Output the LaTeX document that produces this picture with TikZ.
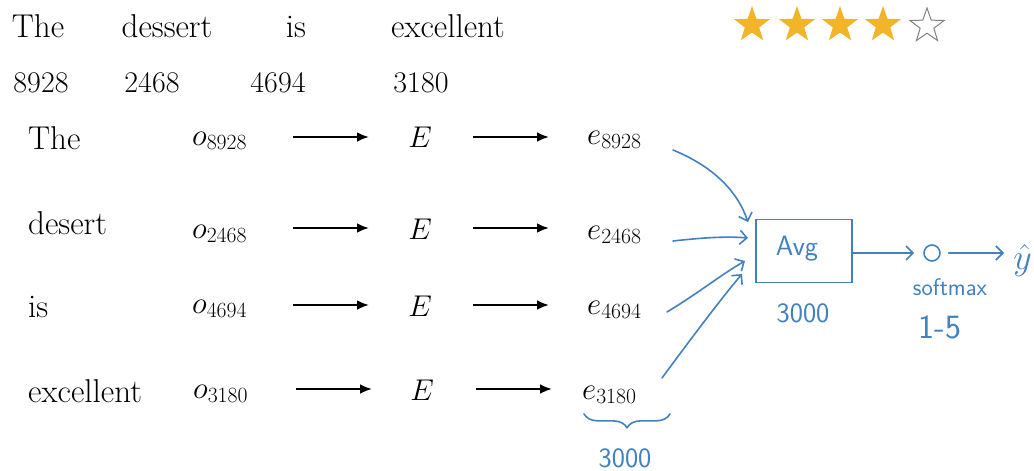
\RequirePackage{fix-cm}
\documentclass[tikz,border=0pt]{standalone}
\usetikzlibrary{arrows.meta,shapes.geometric,decorations.pathreplacing}
\definecolor{pen}{RGB}{66,128,190}
\definecolor{gold}{RGB}{242,180,40}
\begin{document}
\begin{tikzpicture}[x=1pt,y=-1pt,
 word/.style={anchor=west,inner sep=0pt,font=\fontsize{33}{38}\selectfont},
 topword/.style={inner sep=0pt,font=\fontsize{33}{38}\selectfont,anchor=base},
 num/.style={inner sep=0pt,font=\fontsize{30}{34}\selectfont,anchor=base},
 mth/.style={inner sep=0pt,font=\fontsize{31}{35}\selectfont,anchor=base west},
 emb/.style={inner sep=0pt,font=\fontsize{30}{34}\selectfont},
 arr/.style={line width=2.8pt,-{Latex[length=12pt,width=10pt]}},
 penline/.style={draw=pen,line width=1.6pt,line cap=round,line join=round},
 penarr/.style={penline,-{Straight Barb[length=7pt,width=14pt,line width=1.6pt]}},
 hand/.style={text=pen,inner sep=0pt,font=\sffamily\fontsize{28}{30}\selectfont},
 st/.style={star,star points=5,star point ratio=2.5,minimum size=38pt,inner sep=0pt}
]
\useasboundingbox (0,0) rectangle (1034,471);
% top sentence
\node[topword] (tw1) at (38,37) {The};
\node[topword] (tw2) at (167,37) {dessert};
\node[topword] (tw3) at (296,37) {is};
\node[topword] (tw4) at (448,37) {excellent};
\node[num] (n1) at (41,92) {8928};
\node[num] (n2) at (152,92) {2468};
\node[num] (n3) at (278,92) {4694};
\node[num] (n4) at (421,92) {3180};
% stars
\node[st,fill=gold] (s1) at (752,25) {};
\node[st,fill=gold] (s2) at (797,25) {};
\node[st,fill=gold] (s3) at (840,25) {};
\node[st,fill=gold] (s4) at (883,25) {};
\node[st,draw=gray,line width=1pt,minimum size=36pt] (s5) at (927,26) {};
% rows
\node[word] (w1) at (28,138) {The};
\node[word] (w2) at (28,223) {desert};
\node[word] (w3) at (28,307) {is};
\node[word] (w4) at (28,391) {excellent};
\node[mth] (o1) at (192,145) {$o_{8928}$};
\node[mth] (o2) at (192,238) {$o_{2468}$};
\node[mth] (o3) at (192,313) {$o_{4694}$};
\node[mth] (o4) at (193,398) {$o_{3180}$};
\node[emb] (E1) at (420,137) {$E$};
\node[emb] (E2) at (420,229) {$E$};
\node[emb] (E3) at (420,306) {$E$};
\node[emb] (E4) at (422,390) {$E$};
\node[mth] (e1) at (587,144) {$e_{8928}$};
\node[mth] (e2) at (587,239) {$e_{2468}$};
\node[mth] (e3) at (587,314) {$e_{4694}$};
\node[mth] (e4) at (582,399) {$e_{3180}$};
% black arrows
\foreach \i/\y/\dx in {1/137/0,2/228/0,3/305/0,4/389/3}{
  \coordinate (a\i) at (293+\dx,\y);
  \coordinate (b\i) at (369+\dx,\y);
  \coordinate (c\i) at (473+\dx,\y);
  \coordinate (d\i) at (549+\dx,\y);
  \draw[arr] (a\i) -- (b\i);
  \draw[arr] (c\i) -- (d\i);
}
% handwritten part
\node[draw=pen,line width=1.6pt,minimum width=96pt,minimum height=63pt,inner sep=0pt] (avg) at (804,251) {};
\node[hand,font=\sffamily\fontsize{28}{30}\selectfont] (avgt) at (797,249) {Avg};
\node[hand] (dim1) at (803,313) {3000};
\coordinate (p1) at (673,150);
\coordinate (p2) at (673,241);
\coordinate (p3) at (667,312);
\coordinate (p4) at (662,378);
\coordinate (q1) at (748,222);
\coordinate (q2) at (748,238);
\coordinate (q3) at (745,261);
\coordinate (q4) at (742,274);
\draw[penarr] (p1) .. controls (712,166) and (737,190) .. (q1);
\draw[penarr] (p2) .. controls (700,238) and (725,236) .. (q2);
\draw[penarr] (p3) .. controls (700,292) and (722,274) .. (q3);
\draw[penarr] (p4) .. controls (690,340) and (720,300) .. (q4);
\node[draw=pen,line width=1.6pt,circle,minimum size=16pt,inner sep=0pt] (out) at (932,253) {};
\draw[penarr,shorten >=9pt] (avg.east |- out.west) -- (out.west);
\node[text=pen,inner sep=0pt,anchor=east,font=\fontsize{36}{40}\selectfont] (yhat) at (1032,260) {$\hat{y}$};
\coordinate (yin) at (1004,253);
\draw[penarr,shorten <=8pt] (out.east) -- (yin);
\node[hand,font=\sffamily\fontsize{24}{26}\selectfont] (sm) at (950,287) {softmax};
\node[hand,font=\sffamily\fontsize{34}{36}\selectfont] (rng) at (940,327) {1-5};
\draw[penline,decorate,decoration={brace,mirror,amplitude=14pt}] (e4.south west) ++(2,10) coordinate (br1) -- ++(86,0) coordinate (br2);
\node[hand] (dim2) at (625,458) {3000};
\end{tikzpicture}
\end{document}
